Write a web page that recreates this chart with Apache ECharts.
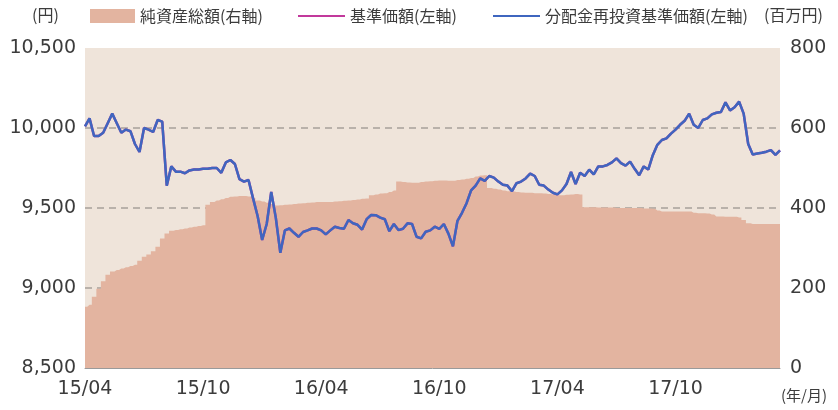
<!DOCTYPE html>
<html>
<head>
<meta charset="utf-8">
<script src="https://cdn.jsdelivr.net/npm/echarts@6/dist/echarts.min.js"></script>
<style>
html,body{margin:0;padding:0;background:#fff;}
#chart{width:838px;height:410px;}
</style>
</head>
<body>
<div id="chart"></div>
<script>
// Weekly observations, 2015/04 .. 2018/03 (index = week number)
const tickLabels = ['15/04','15/10','16/04','16/10','17/04','17/10'];
const seriesNames = ['純資産総額(右軸)','基準価額(左軸)','分配金再投資基準価額(左軸)'];

// 分配金再投資基準価額 (円)
const navReinvested = [
10010,10060,9950,9950,9970,10030,10090,10030,9970,9990,
9980,9900,9850,10000,9990,9975,10050,10040,9640,9760,
9727,9727,9717,9735,9740,9740,9745,9745,9750,9750,
9720,9785,9800,9775,9680,9665,9675,9560,9450,9300,
9400,9600,9440,9220,9360,9372,9345,9320,9350,9360,
9372,9372,9360,9335,9360,9383,9375,9370,9425,9405,
9395,9365,9430,9456,9455,9440,9430,9355,9400,9362,
9370,9404,9400,9320,9310,9352,9360,9383,9370,9400,
9340,9260,9420,9470,9530,9610,9640,9685,9670,9700,
9690,9665,9645,9640,9605,9655,9665,9685,9715,9700,
9645,9640,9615,9595,9585,9610,9650,9725,9650,9720,
9700,9740,9710,9760,9760,9769,9785,9810,9780,9765,
9790,9745,9705,9760,9740,9830,9895,9925,9935,9965,
9990,10020,10045,10090,10020,10000,10050,10060,10085,10095,
10100,10160,10110,10130,10165,10090,9900,9835,9840,9845,
9852,9862,9832,9860
];
// 基準価額 (円) — no distributions, identical to reinvested series
const nav = [
10010,10060,9950,9950,9970,10030,10090,10030,9970,9990,
9980,9900,9850,10000,9990,9975,10050,10040,9640,9760,
9727,9727,9717,9735,9740,9740,9745,9745,9750,9750,
9720,9785,9800,9775,9680,9665,9675,9560,9450,9300,
9400,9600,9440,9220,9360,9372,9345,9320,9350,9360,
9372,9372,9360,9335,9360,9383,9375,9370,9425,9405,
9395,9365,9430,9456,9455,9440,9430,9355,9400,9362,
9370,9404,9400,9320,9310,9352,9360,9383,9370,9400,
9340,9260,9420,9470,9530,9610,9640,9685,9670,9700,
9690,9665,9645,9640,9605,9655,9665,9685,9715,9700,
9645,9640,9615,9595,9585,9610,9650,9725,9650,9720,
9700,9740,9710,9760,9760,9769,9785,9810,9780,9765,
9790,9745,9705,9760,9740,9830,9895,9925,9935,9965,
9990,10020,10045,10090,10020,10000,10050,10060,10085,10095,
10100,10160,10110,10130,10165,10090,9900,9835,9840,9845,
9852,9862,9832,9860
];
// 純資産総額 (百万円)
const netAssets = [
153,158,178,198,217,233,241,245,249,252,
255,258,268,278,284,292,303,324,336,343,
345,347,349,351,353,355,357,408,415,419,
422,425,428,429,430,430,429,425,419,416,
413,410,406,407,408,409,410,411,412,413,
414,415,415,415,415,416,417,418,419,420,
421,423,424,432,434,436,437,440,444,466,
465,464,463,463,465,466,467,468,469,469,
468,468,470,471,473,475,479,481,482,450,
448,446,444,442,441,440,439,438,438,437,
437,436,435,434,432,432,433,434,435,434,
402,402,402,401,401,401,401,400,400,400,
400,400,400,399,399,398,394,391,391,391,
391,391,391,391,388,387,387,386,384,379,
379,378,378,378,376,370,362,360,360,360,
360,360,360,360
];
const weeks = navReinvested.map((_, i) => i);

const FONT = '"DejaVu Sans", Verdana, sans-serif';
const CJK = '"Noto Sans CJK JP", sans-serif';
const TXT = '#3c3c3c';

const chart = echarts.init(document.getElementById('chart'), null, {renderer: 'canvas'});
chart.setOption({
  animation: false,
  backgroundColor: '#ffffff',
  grid: {left: 85, right: 58, top: 48, bottom: 42, show: true, backgroundColor: '#EFE4DA', borderWidth: 0},
  legend: [
    {left: 90, top: 8, padding: 0, icon: 'rect', itemWidth: 45, itemHeight: 14, itemGap: 0,
     data: [seriesNames[0]], textStyle: {fontFamily: CJK, fontSize: 16, color: TXT}},
    {left: 298, top: 8, padding: 0, icon: 'rect', itemWidth: 47, itemHeight: 2, itemGap: 0,
     data: [seriesNames[1]], textStyle: {fontFamily: CJK, fontSize: 16, color: TXT}},
    {left: 493, top: 8, padding: 0, icon: 'rect', itemWidth: 47, itemHeight: 2, itemGap: 0,
     data: [seriesNames[2]], textStyle: {fontFamily: CJK, fontSize: 16, color: TXT}}
  ],
  graphic: [
    {type: 'text', left: 32, top: 7, style: {text: '(円)', font: '16px ' + CJK, fill: TXT}},
    {type: 'text', left: 764, top: 7, style: {text: '(百万円)', font: '16px ' + CJK, fill: TXT}},
    {type: 'text', left: 781, top: 388, style: {text: '(年/月)', font: '15px ' + CJK, fill: TXT}}
  ],
  xAxis: {
    type: 'category', data: weeks, boundaryGap: false,
    axisLine: {show: true, lineStyle: {color: '#9a9a9a', width: 1}},
    axisTick: {show: true, inside: true, length: 5, interval: 25, lineStyle: {color: '#9a9a9a'}},
    axisLabel: {
      interval: 25, margin: 12, color: TXT, fontFamily: FONT, fontSize: 19,
      formatter: (v, idx) => tickLabels[idx / 26] || ''
    },
    splitLine: {show: false}
  },
  yAxis: [
    {type: 'value', min: 8500, max: 10500, interval: 500,
     axisLine: {show: false}, axisTick: {show: false},
     axisLabel: {margin: 9, color: TXT, fontFamily: FONT, fontSize: 19,
       formatter: v => v.toLocaleString('en-US')},
     splitLine: {show: true, showMaxLine: false, showMinLine: false,
       lineStyle: {color: '#a8a09a', type: [7, 5], width: 1.5}}},
    {type: 'value', min: 0, max: 800, interval: 200, position: 'right',
     axisLine: {show: false}, axisTick: {show: false},
     axisLabel: {margin: 10, color: TXT, fontFamily: FONT, fontSize: 19},
     splitLine: {show: false}}
  ],
  series: [
    {name: seriesNames[0], type: 'line', yAxisIndex: 1, data: netAssets, step: 'middle',
     symbol: 'none', lineStyle: {width: 0}, itemStyle: {color: '#E3B4A0'},
     areaStyle: {color: '#E3B4A0', opacity: 1}, z: 2},
    {name: seriesNames[1], type: 'line', yAxisIndex: 0, data: nav,
     symbol: 'none', lineStyle: {width: 2.5, color: '#C2399C'}, itemStyle: {color: '#C2399C'}, z: 3},
    {name: seriesNames[2], type: 'line', yAxisIndex: 0, data: navReinvested,
     symbol: 'none', lineStyle: {width: 2.5, color: '#3F66BF'}, itemStyle: {color: '#3F66BF'}, z: 4}
  ]
});
</script>
</body>
</html>
